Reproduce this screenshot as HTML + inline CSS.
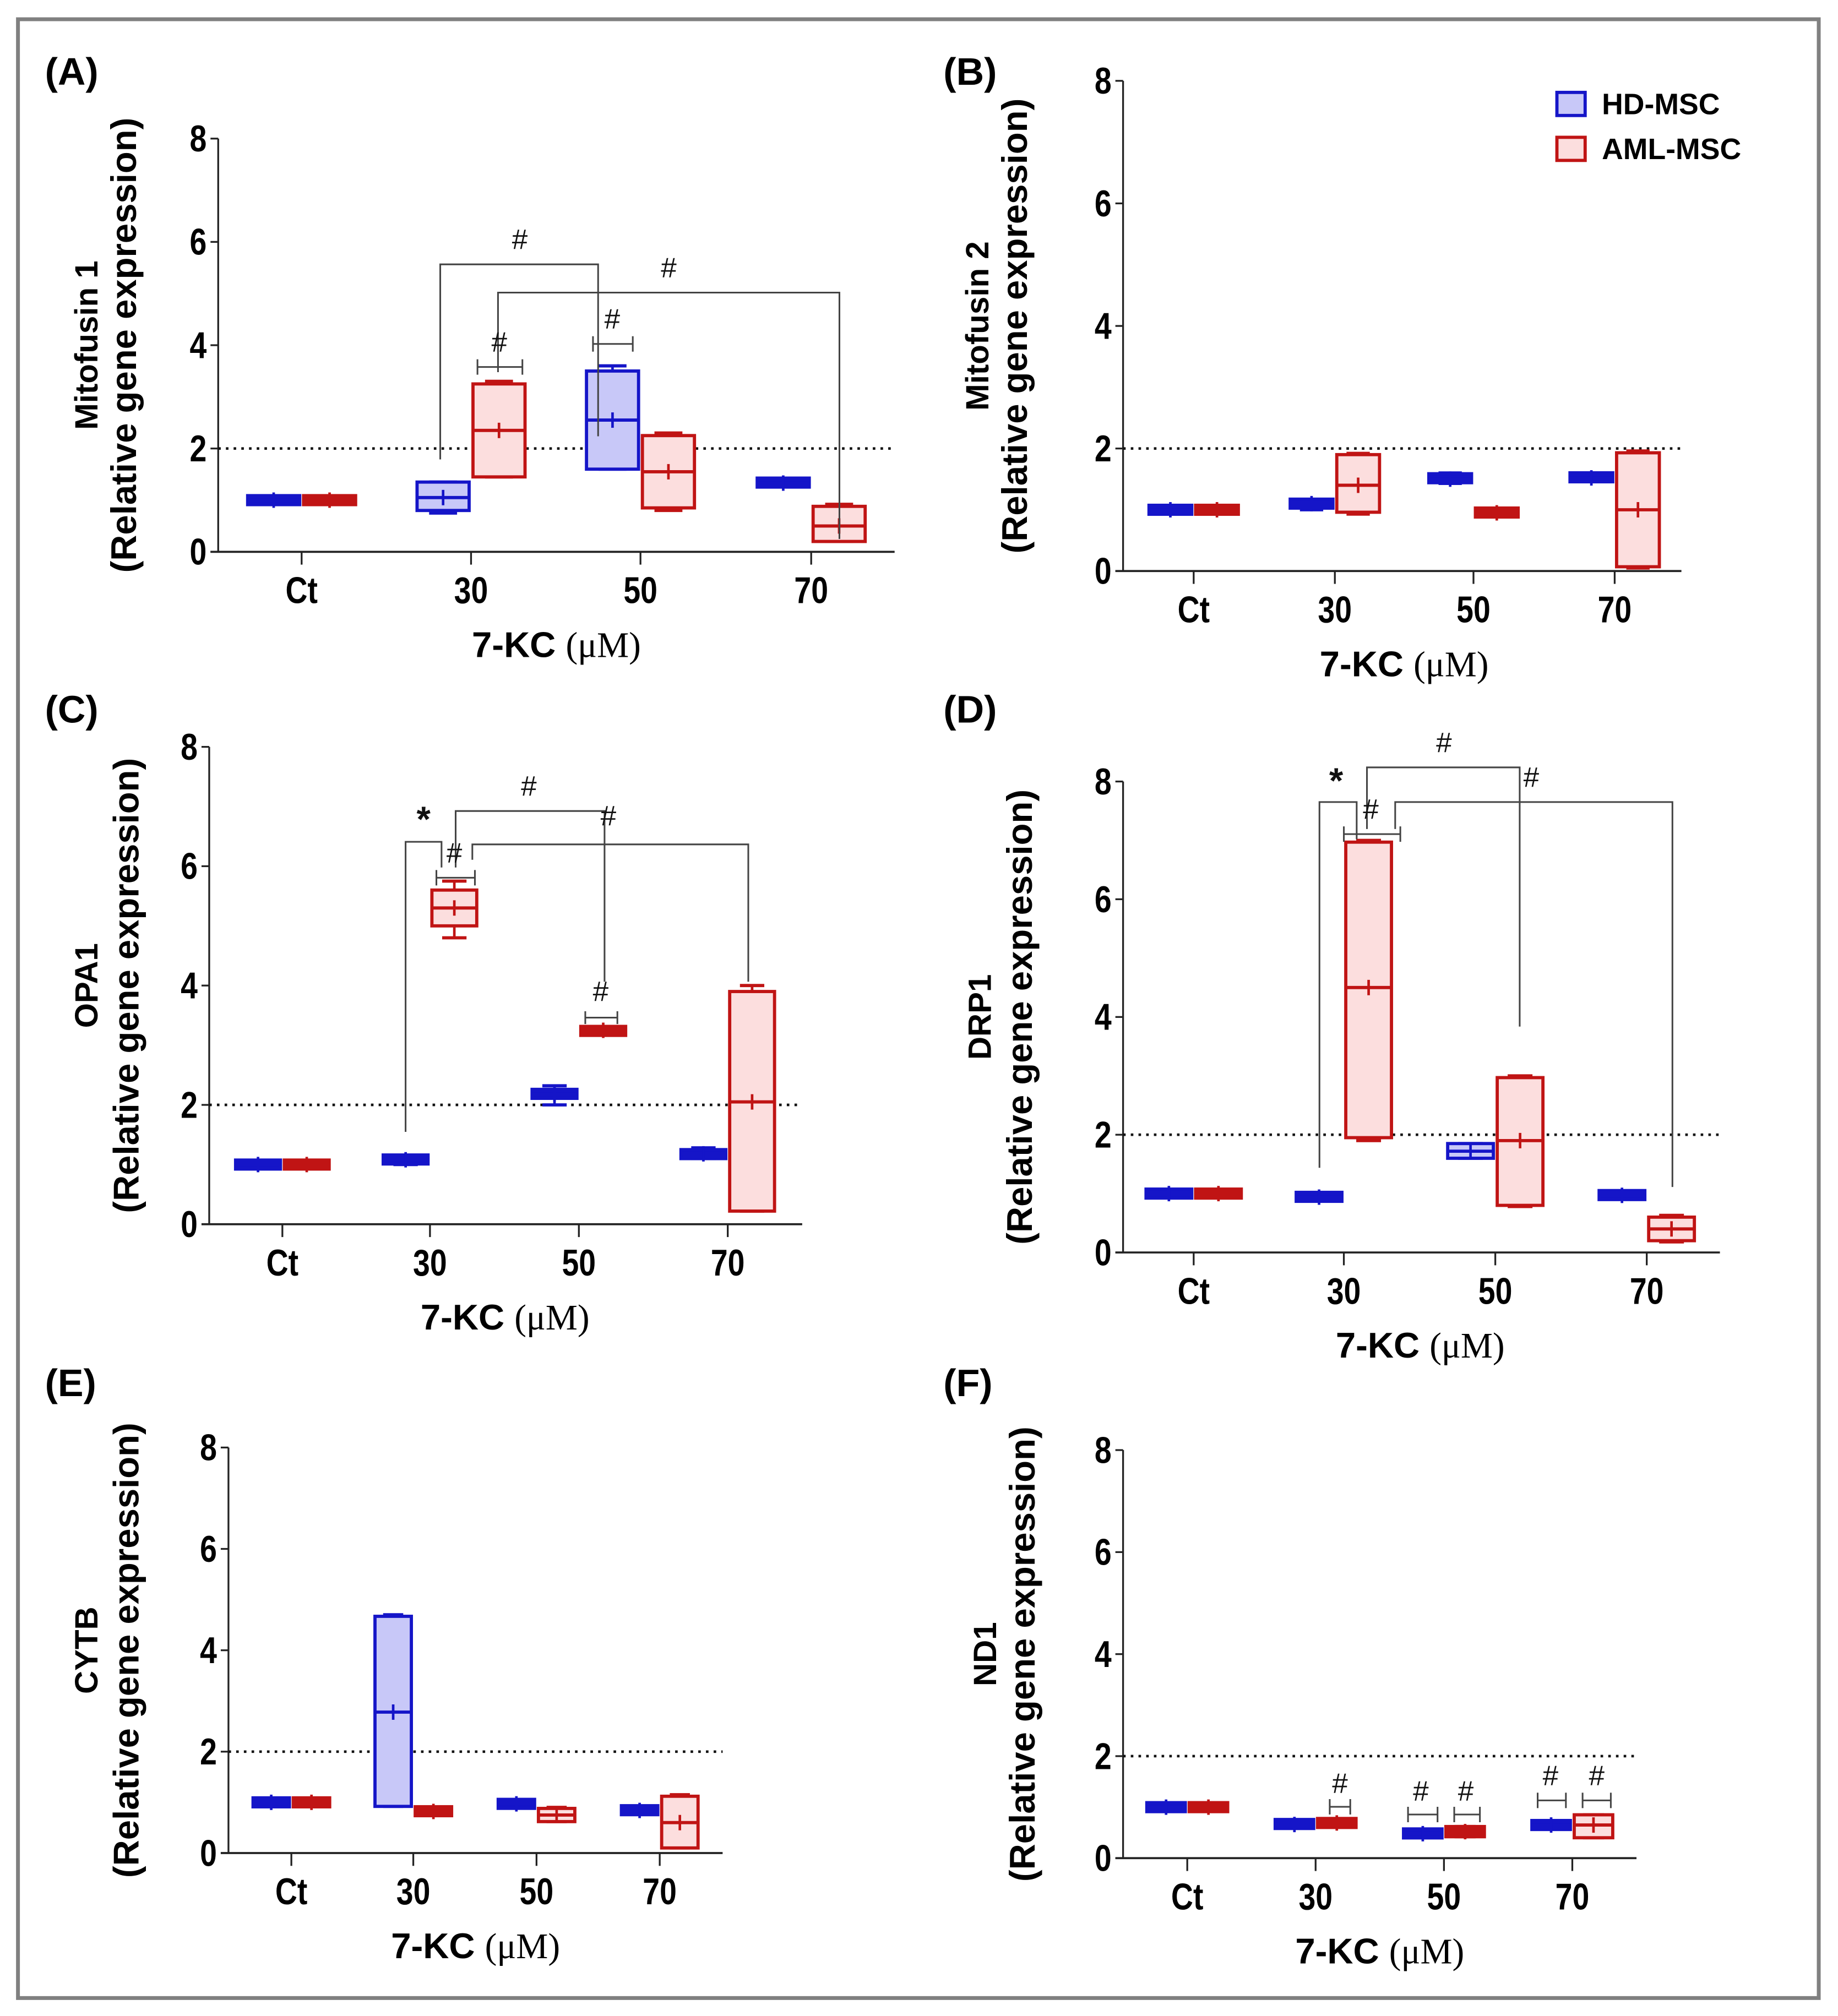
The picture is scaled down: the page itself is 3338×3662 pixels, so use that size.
<!DOCTYPE html>
<html><head><meta charset="utf-8"><style>
html,body{margin:0;padding:0;background:#fff}
svg{display:block}
text{font-family:"Liberation Sans",sans-serif}
</style></head><body>
<svg id="fig" width="3338" height="3662" viewBox="0 0 1432 1571" preserveAspectRatio="none" xmlns="http://www.w3.org/2000/svg">
<rect x="14" y="15" width="1403" height="1542" fill="#fff" stroke="#808080" stroke-width="3"/>
</svg>
<script>
// categories
const categories = ["Ct","30","50","70"];
const yTicks = [0,2,4,6,8];
// each series: [min, q1, median, q3, max] per category
const mfn1HD  = [[0.95,0.96,1.0,1.04,1.05],[0.75,0.8,1.05,1.35,1.35],[1.6,1.6,2.55,3.5,3.6],[1.28,1.3,1.33,1.38,1.4]];
const mfn1AML = [[0.95,0.96,1.0,1.04,1.05],[1.45,1.45,2.35,3.25,3.3],[0.8,0.85,1.55,2.25,2.3],[0.2,0.2,0.5,0.88,0.92]];
const mfn2HD  = [[0.95,0.96,1.0,1.04,1.05],[1.0,1.05,1.1,1.15,1.15],[1.43,1.45,1.5,1.58,1.6],[1.46,1.48,1.52,1.58,1.6]];
const mfn2AML = [[0.95,0.96,1.0,1.04,1.05],[0.93,0.96,1.4,1.9,1.92],[0.92,0.93,0.95,0.98,1.0],[0.05,0.07,1.0,1.93,1.96]];
const opaHD   = [[0.95,0.97,1.0,1.03,1.05],[1.0,1.05,1.08,1.12,1.12],[2.0,2.12,2.18,2.25,2.32],[1.1,1.1,1.18,1.25,1.28]];
const opaAML  = [[0.95,0.97,1.0,1.03,1.05],[4.8,5.0,5.3,5.6,5.75],[3.2,3.2,3.25,3.28,3.3],[0.22,0.22,2.05,3.9,4.0]];
const drpHD   = [[0.96,0.97,1.0,1.03,1.04],[0.9,0.92,0.94,0.97,0.98],[1.6,1.6,1.72,1.85,1.85],[0.94,0.95,0.97,1.0,1.0]];
const drpAML  = [[0.96,0.97,1.0,1.03,1.04],[1.9,1.95,4.5,6.97,7.0],[0.78,0.8,1.9,2.97,3.0],[0.18,0.2,0.4,0.6,0.63]];
const cytHD   = [[0.96,0.97,1.0,1.03,1.04],[0.92,0.92,2.78,4.67,4.7],[0.94,0.94,0.97,1.0,1.0],[0.82,0.82,0.84,0.87,0.87]];
const cytAML  = [[0.96,0.97,1.0,1.03,1.04],[0.8,0.8,0.82,0.85,0.85],[0.62,0.62,0.75,0.88,0.9],[0.1,0.1,0.6,1.12,1.15]];
const ndHD    = [[0.96,0.97,1.0,1.03,1.04],[0.62,0.64,0.66,0.7,0.72],[0.43,0.45,0.48,0.52,0.54],[0.6,0.62,0.65,0.68,0.7]];
const ndAML   = [[0.96,0.97,1.0,1.03,1.04],[0.64,0.66,0.69,0.72,0.74],[0.42,0.42,0.52,0.62,0.62],[0.4,0.4,0.65,0.85,0.85]];

const NS="http://www.w3.org/2000/svg";
const svg=document.getElementById('fig');
function el(tag,attrs,parent){const e=document.createElementNS(NS,tag);for(const k in attrs)e.setAttribute(k,attrs[k]);(parent||svg).appendChild(e);return e;}
function txt(s,attrs,parent){const t=el('text',attrs,parent);t.textContent=s;return t;}

const panels=[
 {id:'a',label:'(A)',lx:35,ly:66,title:'Mitofusin 1',x0:170,x1:697,y0:430,y8:108,cats:[235,367,499,632],hd:mfn1HD,aml:mfn1AML,tx1:76,tx2:106},
 {id:'b',label:'(B)',lx:735,ly:66,title:'Mitofusin 2',x0:875,x1:1310,y0:445,y8:63,cats:[930,1040,1148,1258],hd:mfn2HD,aml:mfn2AML,tx1:770,tx2:800},
 {id:'c',label:'(C)',lx:35,ly:563,title:'OPA1',x0:163,x1:625,y0:954,y8:582,cats:[220,335,451,567],hd:opaHD,aml:opaAML,tx1:76,tx2:108},
 {id:'d',label:'(D)',lx:735,ly:563,title:'DRP1',x0:875,x1:1340,y0:976,y8:609,cats:[930,1047,1165,1283],hd:drpHD,aml:drpAML,tx1:772,tx2:804},
 {id:'e',label:'(E)',lx:35,ly:1088,title:'CYTB',x0:178,x1:563,y0:1444,y8:1128,cats:[227,322,418,514],hd:cytHD,aml:cytAML,tx1:76,tx2:108},
 {id:'f',label:'(F)',lx:735,ly:1088,title:'ND1',x0:875,x1:1275,y0:1448,y8:1130,cats:[925,1025,1125,1225],hd:ndHD,aml:ndAML,tx1:776,tx2:806}
];

panels.forEach(p=>{
 const g=el('g',{});
 
 
 const Y=v=>p.y0-(p.y0-p.y8)*v/8;
 const cy=(p.y0+p.y8)/2;
 const pl=txt(p.label,{x:p.lx,y:p.ly,'font-size':30,'font-weight':'bold'},g);
 
 
 const t1=txt(p.title,{x:p.tx1,y:cy,'font-size':25,'font-weight':'bold','text-anchor':'middle',transform:`rotate(-90 ${p.tx1} ${cy})`},g);
 
 
 const t2=txt('(Relative gene expression)',{x:p.tx2,y:cy,'font-size':28,'font-weight':'bold','text-anchor':'middle',transform:`rotate(-90 ${p.tx2} ${cy})`},g);
 
 
 const ya=el('line',{x1:p.x0,y1:Y(8),x2:p.x0,y2:Y(0),stroke:'#222','stroke-width':1.4},g);
 
 
 const xa=el('line',{x1:p.x0-6,y1:Y(0),x2:p.x1,y2:Y(0),stroke:'#222','stroke-width':1.6},g);
 
 
 yTicks.forEach(v=>{
  el('line',{x1:p.x0-6,y1:Y(v),x2:p.x0,y2:Y(v),stroke:'#222','stroke-width':1.4},g);
  const tl=txt(String(v),{x:(p.x0-9)/0.82,y:Y(v)+10,'font-size':29,'font-weight':'bold','text-anchor':'end',transform:'scale(0.82,1)'},g);
  
  
 });
 const dl=el('line',{x1:p.x0,y1:Y(2),x2:p.x1,y2:Y(2),stroke:'#111','stroke-width':2,'stroke-dasharray':'2 4'},g);
 
 
 const sp=p.cats[1]-p.cats[0], w=sp*0.33;
 categories.forEach((c,i)=>{
  const cx=p.cats[i];
  el('line',{x1:cx,y1:Y(0),x2:cx,y2:Y(0)+10,stroke:'#222','stroke-width':1.4},g);
  const xl=txt(c,{x:cx/0.82,y:Y(0)+40,'font-size':29,'font-weight':'bold','text-anchor':'middle',transform:'scale(0.82,1)'},g);
  
  
  [[p.hd[i],cx-w,'#1515c8','#c8c8f8','hd'],[p.aml[i],cx,'#c01414','#fcdede','aml']].forEach(([d,bx,sc,fc,nm])=>{
   const bg=el('g',{},g);
   
   
   const m=bx+w/2;
   let top=Y(d[3]),bot=Y(d[1]);
   let fill=fc;
   if(bot-top<9){const mid=(top+bot)/2;top=Math.min(top,mid-3.5);bot=Math.max(bot,mid+3.5);fill=sc;}
   el('line',{x1:m,y1:Y(d[4]),x2:m,y2:Y(d[0]),stroke:sc,'stroke-width':2},bg);
   el('line',{x1:m-w*0.25,y1:Y(d[4]),x2:m+w*0.25,y2:Y(d[4]),stroke:sc,'stroke-width':2.5},bg);
   el('line',{x1:m-w*0.25,y1:Y(d[0]),x2:m+w*0.25,y2:Y(d[0]),stroke:sc,'stroke-width':2.5},bg);
   el('rect',{x:bx+1.5,y:top,width:w-3,height:bot-top,fill:fill,stroke:sc,'stroke-width':2.5},bg);
   el('line',{x1:bx+1.5,y1:Y(d[2]),x2:bx+w-1.5,y2:Y(d[2]),stroke:sc,'stroke-width':2.5},bg);
   el('line',{x1:m,y1:Y(d[2])-6,x2:m,y2:Y(d[2])+6,stroke:sc,'stroke-width':2},bg);
  });
 });
 const xt=el('text',{x:(p.cats[0]+p.cats[3])/2,y:Y(0)+82,'font-size':28,'font-weight':'bold','text-anchor':'middle'},g);
 
 
 xt.innerHTML='7-KC <tspan font-family="Liberation Serif,serif" font-weight="normal">(μM)</tspan>';
});

const ann=el('g',{fill:'none',stroke:'#444','stroke-width':1.3});


const lines=[
 'M343,358V206H466V340','M388,290V228H654V420','M372,280V292M372,286H407M407,280V292','M462,262V274M462,268H493M493,262V274',
 'M316,882V656H344V676','M340,678V690M340,684H370M370,678V690','M355,676V632H471V765','M368,670V658H583V765','M456,788V798M456,793H481M481,788V798',
 'M1028,910V625H1057V654','M1047,644V656M1047,650H1091M1091,644V656','M1065,646V598H1184V800','M1087,646V625H1303V925',
 'M1036,1402V1414M1036,1408H1052M1052,1402V1414','M1097,1408V1420M1097,1414H1120M1120,1408V1420','M1133,1408V1420M1133,1414H1153M1153,1408V1420',
 'M1198,1397V1409M1198,1403H1220M1220,1397V1409','M1233,1397V1409M1233,1403H1255M1255,1397V1409'
];
lines.forEach(d=>{const pth=el('path',{d:d},ann);});
const marks=[['#',405,194],['#',521,216],['#',389,274],['#',477,256],
 ['*',330,648],['#',354,672],['#',412,620],['#',474,643],['#',468,780],
 ['*',1041,618],['#',1068,638],['#',1125,586],['#',1193,613],
 ['#',1044,1397],['#',1107,1403],['#',1142,1403],['#',1208,1391],['#',1244,1391]];
marks.forEach(([s,x,y])=>{const t=txt(s,{x:x,y:y,'font-size':s==='*'?28:22,'font-family':'Liberation Serif,serif','text-anchor':'middle',fill:'#111','font-weight':s==='*'?'bold':'normal'});
 
 });

const lg=el('g',{});


const l1=el('rect',{x:1213,y:72,width:22,height:18,fill:'#c8c8f8',stroke:'#1515c8','stroke-width':2.5},lg);


const lt1=txt('HD-MSC',{x:1248,y:89,'font-size':23,'font-weight':'bold'},lg);


const l2=el('rect',{x:1213,y:107,width:22,height:18,fill:'#fcdede',stroke:'#c01414','stroke-width':2.5},lg);


const lt2=txt('AML-MSC',{x:1248,y:124,'font-size':23,'font-weight':'bold'},lg);


</script>
</body></html>
